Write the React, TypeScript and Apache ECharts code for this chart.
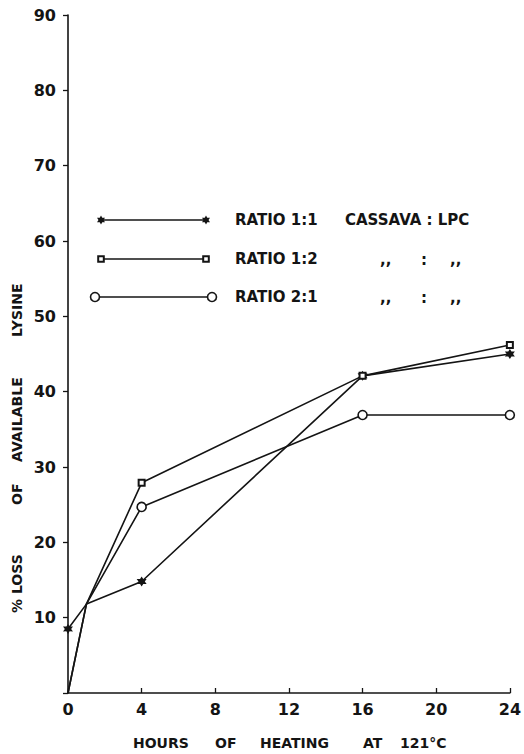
import React, { useEffect, useRef } from "react";
import * as echarts from "echarts";

const hours = [0, 1, 4, 16, 24];
const ratio11 = [8.5, 11.8, 14.8, 42.1, 45.0];
const ratio12 = [0, 11.8, 27.9, 42.1, 46.2];
const ratio21 = [0, 11.8, 24.7, 36.9, 36.9];
const show11 = [true, false, true, true, true];
const show12 = [false, false, true, true, true];
const show21 = [false, false, true, true, true];
const xTicks = [0, 4, 8, 12, 16, 20, 24];
const yTicks = [10, 20, 30, 40, 50, 60, 70, 80, 90];
const legendNames = ["RATIO 1:1", "RATIO 1:2", "RATIO 2:1"];
const legendRest = [["CASSAVA : LPC"], [",,", ":", ",,"], [",,", ":", ",,"]];
const xTitleWords = ["HOURS", "OF", "HEATING", "AT", "121°C"];
const yTitleWords = ["% LOSS", "OF", "AVAILABLE", "LYSINE"];

const FONT = "DejaVu Sans";
const INK = "#141414";
const STAR =
  "path://M0,-10 L2.8,-4.8 L8.7,-5 L5.5,0 L8.7,5 L2.8,4.8 L0,10 L-2.8,4.8 L-8.7,5 L-5.5,0 L-8.7,-5 L-2.8,-4.8 Z";

function build(vals: number[], shows: boolean[]) {
  return hours.map((h, i) => ({
    value: [h, vals[i]],
    symbolSize: shows[i] ? undefined : 0,
  }));
}

function starPoints(cx: number, cy: number, r: number) {
  const pts: number[][] = [];
  for (let i = 0; i < 12; i++) {
    const a = (Math.PI / 6) * i - Math.PI / 2;
    const rr = i % 2 === 0 ? r : r * 0.55;
    pts.push([cx + rr * Math.cos(a), cy + rr * Math.sin(a)]);
  }
  return pts;
}

export default function App() {
  const ref = useRef<HTMLDivElement>(null);
  useEffect(() => {
    document.body.style.margin = "0";
    const chart = echarts.init(ref.current!, null, { renderer: "svg" });
    const rows = [220, 259, 297];
    const g: any[] = [];
    const txt = (text: string, x: number, y: number, size: number, extra: any = {}) => ({
      type: "text",
      x,
      y,
      ...extra,
      style: {
        text,
        fontFamily: FONT,
        fontWeight: "bold",
        fontSize: size,
        fill: INK,
        textVerticalAlign: "middle",
        ...(extra.style || {}),
      },
    });
    rows.forEach((y, i) => {
      const xa = i === 2 ? 95 : 101;
      const xb = i === 2 ? 212 : 206;
      g.push({
        type: "line",
        shape: { x1: xa, y1: y, x2: xb, y2: y },
        style: { stroke: INK, lineWidth: 1.6 },
      });
      [xa, xb].forEach((x) => {
        if (i === 0) {
          g.push({ type: "polygon", shape: { points: starPoints(x, y, 4.6) }, style: { fill: INK } });
        } else if (i === 1) {
          g.push({
            type: "rect",
            shape: { x: x - 2.8, y: y - 2.8, width: 5.6, height: 5.6 },
            style: { fill: "#fff", stroke: INK, lineWidth: 2 },
          });
        } else {
          g.push({
            type: "circle",
            shape: { cx: x, cy: y, r: 4.5 },
            style: { fill: "#fff", stroke: INK, lineWidth: 1.6 },
          });
        }
      });
      g.push(txt(legendNames[i], 235, y, 15));
      const xs = i === 0 ? [345] : [380, 421, 450];
      legendRest[i].forEach((t, j) => {
        g.push(txt(t, xs[j], i === 0 ? y : y + 1, 15));
      });
    });

    // axis titles, word by word to keep the wide spacing of the original
    const xWordX = [133, 215, 260, 363, 400];
    xTitleWords.forEach((w, i) => {
      g.push(txt(w, xWordX[i], 743, 14));
    });
    const yWordY = [613, 505, 462, 337];
    yTitleWords.forEach((w, i) => {
      g.push(txt(w, 17, yWordY[i], 14, { rotation: Math.PI / 2 }));
    });

    const common = {
      type: "line",
      lineStyle: { color: INK, width: 1.6 },
      itemStyle: { color: INK },
      showAllSymbol: true,
      z: 3,
    };

    chart.setOption({
      animation: false,
      backgroundColor: "#fff",
      grid: { left: 68, right: 10, top: 15, bottom: 61, containLabel: false },
      xAxis: {
        type: "value",
        min: 0,
        max: 24,
        interval: 4,
        axisLine: { lineStyle: { color: INK, width: 1.6 } },
        axisTick: { inside: true, length: 5, lineStyle: { color: INK, width: 1.3 } },
        axisLabel: {
          fontFamily: FONT,
          fontWeight: "bold",
          fontSize: 16,
          color: INK,
          margin: 8,
          formatter: (v: number) => (xTicks.includes(v) ? String(v) : ""),
        },
        splitLine: { show: false },
      },
      yAxis: {
        type: "value",
        min: 0,
        max: 90,
        interval: 10,
        axisLine: { show: true, lineStyle: { color: INK, width: 1.6 } },
        axisTick: { show: true, length: 5, lineStyle: { color: INK, width: 1.3 } },
        axisLabel: {
          fontFamily: FONT,
          fontWeight: "bold",
          fontSize: 16,
          color: INK,
          margin: 12,
          formatter: (v: number) => (yTicks.includes(v) ? String(v) : ""),
        },
        splitLine: { show: false },
      },
      graphic: g,
      series: [
        {
          ...common,
          name: legendNames[0],
          symbol: STAR,
          symbolSize: 10,
          data: build(ratio11, show11),
        },
        {
          ...common,
          name: legendNames[1],
          symbol: "rect",
          symbolSize: 6,
          itemStyle: { color: "#fff", borderColor: INK, borderWidth: 2 },
          data: build(ratio12, show12),
        },
        {
          ...common,
          name: legendNames[2],
          symbol: "circle",
          symbolSize: 9,
          itemStyle: { color: "#fff", borderColor: INK, borderWidth: 1.6 },
          data: build(ratio21, show21),
        },
      ],
    });
    return () => chart.dispose();
  }, []);
  return (
    <div
      ref={ref}
      style={{ position: "absolute", left: 0, top: 0, width: 524, height: 754 }}
    />
  );
}
